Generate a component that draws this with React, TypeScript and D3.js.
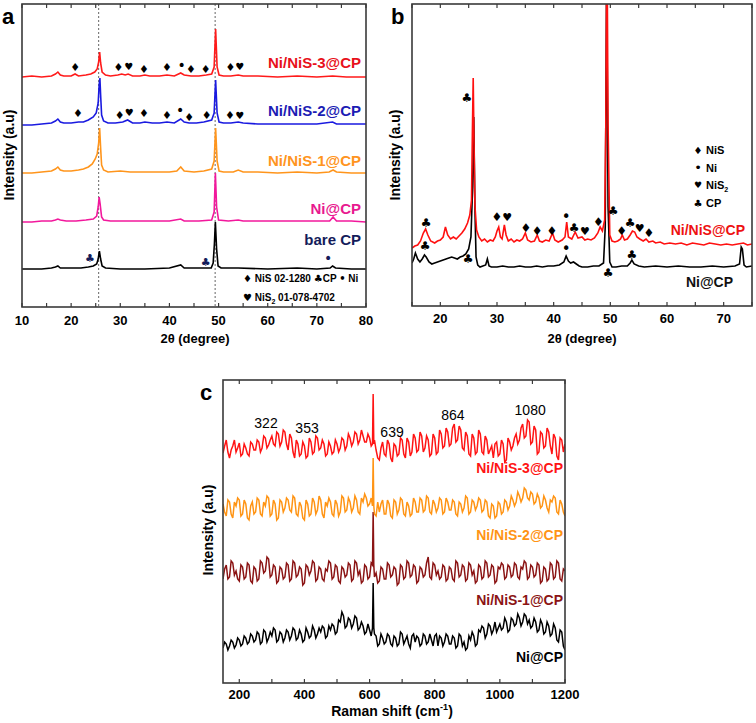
import * as d3 from 'd3'
import { useRef, useEffect } from 'react'

const W = 756, H = 723
const FONT = 'Liberation Sans, Arial, Helvetica, sans-serif'
const SYM_FONT = 'DejaVu Sans, sans-serif'

// ---------- panel a: XRD of the five electrodes (2θ, counts above own baseline)
const xrdNames = ['bare CP', 'Ni@CP', 'Ni/NiS-1@CP', 'Ni/NiS-2@CP', 'Ni/NiS-3@CP']
const xrdColors = ['#000000', '#f2189c', '#ff951c', '#1a1ae0', '#ff1a1a']
const xrdNameColors = ['#141c5a', '#e8198f', '#ff9420', '#1c1cb4', '#e8101a']
const xrdOffsets = [38, 85, 134, 182, 230]
const xrdNameY = [68, 99, 147, 197, 245]

const xrdBare = [[10,0],[12,0],[14,0],[16,1],[16.8,2],[17.3,3],[17.8,1],[20,1],[22,1],[23.5,2],[24.5,3],[25.2,5],[25.5,10],[25.75,18],[26.0,10],[26.3,3],[27,1],[30,0],[35,0],[40,1],[42.3,4],[43,1],[46,1],[48.5,1],[48.9,6],[49.15,25],[49.35,47],[49.6,20],[49.9,3],[50.5,1],[54,1],[60,0],[66,1],[70,0],[72.7,1],[73.2,3],[73.8,1],[77,0],[80,0]]
const xrdNi = [[10,0],[12,0],[14,1],[16,1],[16.8,2],[17.3,3],[17.8,2],[19,1],[21,1],[23,2],[24.5,3],[25.2,6],[25.5,15],[25.7,25],[25.9,18],[26.2,5],[26.6,2],[28,1],[32,1],[36,1],[40,1],[42.3,3],[43,1],[46,1],[48.6,2],[49.1,10],[49.35,49],[49.6,15],[50,2],[52,1],[54,2],[55,1],[60,1],[66,1],[70,1],[72.6,1],[73.3,5],[74,1],[77,1],[80,0]]
const xrdNiS1 = [[10,0],[12,0],[14,1],[16,2],[16.8,4],[17.3,6],[17.8,3],[18.5,2],[20,2],[21.5,3],[22.5,4],[23.5,6],[24.3,9],[24.9,14],[25.3,19],[25.6,30],[25.8,45],[26.0,25],[26.2,8],[26.6,3],[27.5,1],[30,2],[32,1],[35,1],[38,1],[40,1],[41.5,2],[42.3,6],[43,2],[45,1],[47,2],[48.6,4],[49.1,12],[49.4,45],[49.7,12],[50.1,2],[51,1],[53,1],[54,3],[55,1],[58,1],[62,0],[66,1],[70,0],[72.5,1],[73.3,3],[74,1],[77,0],[80,0]]
const xrdNiS2 = [[10,0],[12,0],[14,1],[16,2],[16.8,4],[17.3,6],[17.8,3],[18.5,2],[20,2],[21.5,3],[22.5,3],[23.5,5],[24.5,8],[25.1,12],[25.5,22],[25.7,40],[25.85,47],[26.0,30],[26.2,10],[26.6,4],[27.5,2],[29,2],[30.5,3],[31.5,5],[32.5,2],[34,2],[35,3],[36.5,2],[38,2],[39.5,3],[41,2],[42.3,6],[43,3],[44,2],[45.5,2],[47,3],[48.6,5],[49.1,12],[49.4,45],[49.7,12],[50.1,3],[51,2],[52.5,2],[54,3],[55,2],[58,1],[62,1],[66,1],[70,1],[73.2,3],[74,1],[77,1],[80,1]]
const xrdNiS3 = [[10,0],[12,1],[14,0],[16,1],[16.8,3],[17.3,5],[17.8,2],[18.5,1],[20,1],[20.8,3],[21.5,1],[23,2],[24,3],[24.8,5],[25.3,8],[25.6,15],[25.8,25],[26.0,14],[26.3,5],[27,2],[28,1],[29.5,2],[30.3,3],[31,2],[31.6,3],[32.5,1],[34,1],[35,2],[36,1],[38,1],[39.5,2],[41,1],[42.3,4],[43,2],[44.4,1],[46,1],[47.5,2],[48.6,3],[49.1,10],[49.4,48],[49.7,10],[50.1,2],[51,1],[52.5,1],[54,2],[55,1],[58,1],[62,0],[66,1],[70,0],[73.2,1],[76,0],[80,0]]
const xrdSeries = [xrdBare, xrdNi, xrdNiS1, xrdNiS2, xrdNiS3]

// phase markers in panel a: [2θ, height on the axis, symbol]
const aMarks = [
  [20.8,240,'♦'],[29.6,240,'♦'],[31.7,241,'♥'],[34.8,238,'♦'],[39.5,240,'♦'],[42.5,242,'•'],[44.4,238,'♦'],[47.4,238,'♦'],[52.4,240,'♦'],[54.3,241,'♥'],
  [21.4,194,'♦'],[29.9,192,'♦'],[31.8,195,'♥'],[34.8,194,'♦'],[39.5,192,'♦'],[42.2,197,'•'],[44.0,190,'♦'],[47.6,192,'♦'],[52.3,192,'♦'],[54.3,192,'♥'],
  [23.8,49,'♣'],[47.4,45,'♣'],[72.3,49,'•'],
]
const aMajor = [10, 20, 30, 40, 50, 60, 70, 80]
const aMinor = [15, 25, 35, 45, 55, 65, 75]
const aGuides = [25.6, 49.3]

// ---------- panel b: Ni/NiS@CP vs Ni@CP
const bNames = ['Ni@CP', 'Ni/NiS@CP']
const bColors = ['#000000', '#ff1010']
const bOffsets = [39, 61]
const bNiCP = [[15,4],[15.3,8],[15.6,14],[16,8],[16.4,5],[16.8,8],[17.2,12],[17.5,10],[18,5],[18.5,3],[19,4],[19.5,5],[20,6],[20.5,7],[21,8],[21.5,9],[22,10],[22.5,9],[23,8],[23.5,10],[24,11],[24.5,13],[25,18],[25.4,30],[25.7,80],[25.9,150],[26.1,60],[26.3,10],[26.6,2],[27,0],[27.5,1],[28,2],[28.3,8],[28.6,1],[29,0],[30,0],[31,1],[32,0],[33,0],[34,1],[35,0],[36,0],[37,1],[38,0],[39,1],[40,1],[41,2],[41.8,5],[42.2,11],[42.6,6],[43,4],[43.5,5],[44,3],[44.5,1],[45,0],[46,0],[47,1],[48,1],[48.8,4],[49.1,40],[49.35,300],[49.6,60],[49.9,5],[50.3,0],[51,0],[52,1],[53,1],[53.5,4],[53.8,7],[54.2,3],[55,1],[56,0],[58,1],[60,0],[62,1],[64,0],[66,0],[68,1],[70,0],[72,1],[72.8,3],[73.1,20],[73.3,18],[73.6,2],[74,0],[75,1]]
const bNiNiS = [[15,-3],[15.5,-1],[16,0],[16.5,4],[17,12],[17.4,16],[17.8,10],[18.3,4],[19,2],[19.5,4],[20,5],[20.5,8],[20.9,18],[21.3,10],[21.8,6],[22.3,8],[22.8,6],[23.3,9],[23.8,12],[24.3,16],[24.8,22],[25.2,30],[25.5,45],[25.65,110],[25.8,167],[25.95,100],[26.1,40],[26.4,15],[26.8,8],[27.3,4],[27.8,6],[28.3,3],[28.8,5],[29.3,4],[29.7,8],[30.0,14],[30.3,18],[30.6,8],[30.9,6],[31.3,20],[31.6,10],[32,4],[32.5,6],[33,3],[33.5,5],[34,4],[34.5,6],[35,12],[35.4,5],[36,3],[36.6,4],[37.1,10],[37.5,4],[38,3],[38.6,5],[39.2,4],[39.8,12],[40.2,5],[40.8,3],[41.5,5],[42,8],[42.3,23],[42.6,8],[43.2,6],[43.8,13],[44.3,7],[45,8],[45.5,5],[46,6],[46.6,5],[47.2,7],[47.8,12],[48.2,18],[48.6,14],[49.0,25],[49.2,120],[49.4,320],[49.6,120],[49.9,10],[50.3,4],[50.8,3],[51.3,4],[51.8,6],[52.1,10],[52.5,5],[53,6],[53.5,10],[53.9,14],[54.3,13],[54.7,8],[55.2,6],[55.8,4],[56.3,6],[56.8,3],[57.5,4],[58,2],[58.8,3],[59.5,1],[60.5,2],[61.5,1],[62.5,2],[63.5,0],[64.5,2],[65.5,1],[66.5,0],[67.5,2],[68.5,1],[69.5,0],[70.5,1],[71.5,0],[72.5,1],[73.5,2],[74.2,0],[75,1]]
const bSeries = [bNiCP, bNiNiS]
const bMarks = [
  [24.7,208,'♣'],[17.5,83,'♣'],[30.0,89,'♦'],[31.8,89,'♥'],[35.1,78,'♦'],[37.1,75,'♦'],[39.7,75,'♦'],[42.2,89,'•'],[43.6,78,'♣'],[45.5,75,'♥'],[47.9,84,'♦'],[50.5,95,'♣'],[52.0,75,'♦'],[53.5,83,'♣'],[55.2,78,'♥'],[56.8,73,'♦'],
  [17.3,60,'♣'],[24.9,47,'♣'],[42.2,57,'•'],[49.6,33,'♣'],[53.8,51,'♣'],
]
const bLegendSym = ['♦', '•', '♥', '♣']
const bLegendText = ['NiS', 'Ni', 'NiS2', 'CP']
const bMajor = [20, 30, 40, 50, 60, 70]
const bMinor = [15, 25, 35, 45, 55, 65, 75]

// ---------- panel c: Raman, sampled every 5 cm-1 from 150 to 1200
const ramanShift = d3.range(150, 1201, 5)
const ramanNames = ['Ni@CP', 'Ni/NiS-1@CP', 'Ni/NiS-2@CP', 'Ni/NiS-3@CP']
const ramanColors = ['#000000', '#8b1414', '#ff9414', '#ff1414']
const ramanOffsets = [43, 110, 175, 235]
const ramanSpike = [57, 61, 50, 54]
const ramanNameY = [26, 83, 148, 215]
const ramanNiCP = [
  -8,-2,-4,-10,-6,0,-2,-8,-5,2,0,-6,-4,4,2,-4,-2,6,4,-2,
  0,8,6,-4,-2,10,8,-2,2,8,4,12,10,-2,0,8,6,-2,2,10,
  8,0,4,12,10,0,2,10,6,-2,0,12,8,2,4,14,10,2,6,12,
  8,14,12,2,4,14,10,16,14,6,8,20,18,28,24,12,14,22,20,12,
  16,24,22,10,12,18,14,6,8,16,10,4,12,6,4,-6,-4,6,2,-4,
  -2,6,4,-4,-6,4,2,-6,-4,8,6,-4,0,4,-4,-8,4,6,-2,4,
  2,-6,-4,6,4,-4,-2,6,0,-6,4,6,-6,4,2,-6,-2,6,4,-4,
  -4,4,2,-8,-6,6,4,-6,-2,-10,-8,4,0,8,4,-6,-4,10,8,14,
  12,2,6,16,14,6,10,18,8,12,16,10,12,22,18,8,10,22,20,14,
  16,26,22,14,18,26,24,16,20,12,14,22,18,8,10,20,16,6,8,18,
  14,4,6,16,12,0,-2,10,8,-6,-10]
const ramanNiS1 = [
  -6,4,8,-6,-4,12,10,-2,2,-6,-8,8,6,-6,-4,10,8,-8,-10,6,
  4,-8,-6,12,10,0,2,16,14,-4,-2,8,6,-10,-8,6,4,-6,-4,10,
  8,-8,-6,12,10,-4,-2,6,4,-12,-10,8,6,-2,2,12,10,-8,-6,6,
  4,-6,-8,4,2,12,10,-6,-4,8,6,-8,-10,6,4,-4,-2,10,8,-8,
  -6,12,10,-2,2,-10,-8,8,6,-6,-4,10,8,-4,0,-10,-8,6,4,-6,
  -6,10,8,-4,-2,6,4,-12,-10,8,6,-6,-4,12,10,-4,-2,8,6,-10,
  -8,6,4,-4,-2,10,16,-4,-6,10,8,-2,2,-6,-4,8,6,-8,-6,6,
  4,-6,-8,12,10,-4,-2,8,6,-8,-6,10,8,-2,2,-10,-8,8,6,-6,
  -4,12,10,-4,-2,8,6,-10,-8,6,4,10,8,-6,-4,8,6,-4,-2,10,
  8,-4,-6,6,4,12,10,-6,-4,8,6,-4,-2,10,8,-10,-8,6,4,-8,
  -6,10,8,-6,-4,12,10,-6,-8,4,2]
const ramanNiS2 = [
  4,-4,-8,8,6,-6,-10,6,2,10,8,-8,-6,8,4,-10,-12,2,6,-6,
  -4,10,8,-6,-8,6,2,12,10,-8,-6,8,4,-12,-10,8,6,-4,0,10,
  8,-2,-4,12,10,-6,-8,6,2,-10,-12,8,4,-8,-6,10,6,-6,-2,12,
  8,-6,-10,6,2,10,6,-6,-8,8,4,-8,-4,12,10,-4,-2,10,6,-4,
  0,12,8,-4,-6,10,6,14,10,2,4,10,2,-6,-8,6,-4,4,8,-6,
  -6,8,4,-8,-10,8,6,-6,-2,10,8,-6,-8,6,2,-8,-6,10,6,-4,
  -4,10,8,-4,-2,12,10,-4,-6,8,4,-4,0,10,8,-6,-4,10,6,-2,
  -2,8,6,-6,-8,6,4,-4,0,12,10,-6,-4,8,6,-2,2,10,8,-4,
  -2,8,6,-8,-10,4,2,-10,-8,6,4,-6,-4,8,6,-2,2,12,8,2,
  6,16,12,6,10,20,18,10,8,16,14,4,6,14,10,0,2,12,8,0,
  -4,8,6,12,10,-4,-6,8,4,-4,-8]
const ramanNiS3 = [
  -5,2,8,-4,-10,-2,2,8,-4,0,5,-8,-6,4,0,-6,-8,6,4,-2,
  -2,8,6,-4,0,12,10,0,3,8,12,4,2,16,14,2,6,18,16,4,
  -2,14,10,-4,-10,8,4,-8,-6,6,2,-10,-8,10,6,-6,-4,12,10,-2,
  0,8,4,-8,-6,6,2,-6,-4,8,4,-4,0,10,8,-2,2,14,10,2,
  6,16,14,4,8,18,12,6,6,14,10,2,4,8,-2,-10,-12,0,6,-6,
  -8,8,4,-10,-14,4,2,-8,-6,10,8,-6,-10,10,6,-8,-4,14,10,-4,
  -2,16,12,-4,0,12,8,-8,-6,14,10,-6,-4,18,14,0,2,20,16,2,
  4,20,24,6,8,22,18,0,-2,16,12,-6,-8,14,10,-6,-4,18,14,-4,
  -6,12,8,-6,-2,2,-10,4,6,-8,-6,8,4,-14,-12,10,6,-2,2,10,
  14,4,8,20,24,10,12,28,26,4,6,22,18,-6,-4,16,14,0,2,20,
  16,2,-6,14,10,-8,-12,10,8,-4,4]
const ramanSeries = [ramanNiCP, ramanNiS1, ramanNiS2, ramanNiS3]
const ramanPeaks = ['322', '353', '639', '864', '1080']
const ramanPeakX = [282, 408, 669, 856, 1093]
const ramanPeakY = [260, 255, 251, 268, 273]
const cMajor = [200, 400, 600, 800, 1000, 1200]
const cMinor = [300, 500, 700, 900, 1100]

function drawFrame(svg, x, top, bottom, major, minor, tickY) {
  const [xa, xb] = x.range()
  const ax = svg.append('g')
  ax.append('rect').attr('x', xa).attr('y', top).attr('width', xb - xa).attr('height', bottom - top)
    .attr('fill', 'none').attr('stroke', '#3a3a3a').attr('stroke-width', 1.6)
  major.concat(minor).forEach(t => {
    ax.append('line').attr('x1', x(t)).attr('x2', x(t)).attr('y1', bottom).attr('y2', bottom - 4)
      .attr('stroke', '#3a3a3a').attr('stroke-width', 1.2)
    ax.append('line').attr('x1', x(t)).attr('x2', x(t)).attr('y1', top).attr('y2', top + 4)
      .attr('stroke', '#3a3a3a').attr('stroke-width', 1.2)
  })
  major.forEach(t => {
    ax.append('text').attr('x', x(t)).attr('y', tickY).attr('text-anchor', 'middle')
      .attr('font-size', 13).attr('font-weight', 'bold').text(t)
  })
}

function yTitle(svg, cx, cy) {
  svg.append('text').attr('transform', `translate(${cx},${cy}) rotate(-90)`)
    .attr('text-anchor', 'middle').attr('font-size', 14).attr('font-weight', 'bold')
    .text('Intensity (a.u)')
}

function clip(svg, id, x, top, bottom) {
  const [xa, xb] = x.range()
  svg.append('clipPath').attr('id', id).append('rect')
    .attr('x', xa).attr('y', top).attr('width', xb - xa).attr('height', bottom - top)
}

function symbol(svg, x, y, s, size, fill = '#000') {
  svg.append('text').attr('x', x).attr('y', y).attr('text-anchor', 'middle')
    .attr('dominant-baseline', 'central').attr('font-family', SYM_FONT)
    .attr('font-size', s === '•' ? size + 3 : s === '♥' ? size - 1 : size).attr('fill', fill).text(s)
}

export default function App() {
  const svgRef = useRef(null)

  useEffect(() => {
    const svg = d3.select(svgRef.current)
    svg.selectAll('*').remove()
    svg.attr('font-family', FONT)

    // ================= a
    const xA = d3.scaleLinear().domain([10, 80]).range([22, 366])
    const yA = d3.scaleLinear().domain([0, 303]).range([307, 4])
    clip(svg, 'clipA', xA, 4, 307)
    aGuides.forEach(t => {
      svg.append('line').attr('x1', xA(t)).attr('x2', xA(t)).attr('y1', 4).attr('y2', 307)
        .attr('stroke', '#555').attr('stroke-width', 0.9).attr('stroke-dasharray', '2,2')
    })
    const gA = svg.append('g').attr('clip-path', 'url(#clipA)')
    xrdSeries.forEach((s, i) => {
      const line = d3.line().x(d => xA(d[0])).y(d => yA(d[1] + xrdOffsets[i]))
      gA.append('path').attr('d', line(s)).attr('fill', 'none')
        .attr('stroke', xrdColors[i]).attr('stroke-width', 1.6)
      svg.append('text').attr('x', 361).attr('y', yA(xrdNameY[i])).attr('text-anchor', 'end')
        .attr('dominant-baseline', 'central').attr('font-size', 15).attr('font-weight', 'bold')
        .attr('fill', xrdNameColors[i]).text(xrdNames[i])
    })
    aMarks.forEach(m => symbol(svg, xA(m[0]), yA(m[1]), m[2], 11, m[1] < 60 ? '#141c5a' : '#000'))
    // phase legend
    const la = svg.append('g').attr('font-size', 10).attr('font-weight', 'bold')
    const l1 = la.append('text').attr('x', 243).attr('y', 282)
    l1.append('tspan').attr('font-family', SYM_FONT).text('♦')
    l1.append('tspan').text(' NiS 02-1280 ')
    l1.append('tspan').attr('font-family', SYM_FONT).text('♣')
    l1.append('tspan').text('CP ')
    l1.append('tspan').attr('font-family', SYM_FONT).text('•')
    l1.append('tspan').text(' Ni')
    const l2 = la.append('text').attr('x', 243).attr('y', 301)
    l2.append('tspan').attr('font-family', SYM_FONT).text('♥')
    l2.append('tspan').text(' NiS')
    l2.append('tspan').attr('font-size', 7).attr('dy', 3).text('2')
    l2.append('tspan').attr('dy', -3).text(' 01-078-4702')
    drawFrame(svg, xA, 4, 307, aMajor, aMinor, 325)
    yTitle(svg, 14, 155)
    svg.append('text').attr('x', 195).attr('y', 343).attr('text-anchor', 'middle')
      .attr('font-size', 13).attr('font-weight', 'bold').text('2θ (degree)')
    svg.append('text').attr('x', 2).attr('y', 24).attr('font-size', 22).attr('font-weight', 'bold').text('a')

    // ================= b
    const xB = d3.scaleLinear().domain([15, 75]).range([412, 752])
    const yB = d3.scaleLinear().domain([0, 302]).range([306, 4])
    clip(svg, 'clipB', xB, 4, 306)
    const gB = svg.append('g').attr('clip-path', 'url(#clipB)')
    bSeries.forEach((s, i) => {
      const line = d3.line().x(d => xB(d[0])).y(d => yB(d[1] + bOffsets[i]))
      gB.append('path').attr('d', line(s)).attr('fill', 'none')
        .attr('stroke', bColors[i]).attr('stroke-width', 1.6)
    })
    svg.append('text').attr('x', 745).attr('y', 230).attr('text-anchor', 'end')
      .attr('dominant-baseline', 'central').attr('font-size', 14).attr('font-weight', 'bold')
      .attr('fill', '#ee1111').text(bNames[1])
    svg.append('text').attr('x', 733).attr('y', 282).attr('text-anchor', 'end')
      .attr('dominant-baseline', 'central').attr('font-size', 14).attr('font-weight', 'bold')
      .attr('fill', '#111').text(bNames[0])
    bMarks.forEach(m => symbol(svg, xB(m[0]), yB(m[1]), m[2], 12))
    bLegendSym.forEach((s, i) => {
      const yy = 150 + i * 17.7
      symbol(svg, 698, yy, s, 10)
      const t = svg.append('text').attr('x', 706).attr('y', yy + 4).attr('font-size', 11)
        .attr('font-weight', 'bold')
      if (bLegendText[i] === 'NiS2') {
        t.append('tspan').text('NiS')
        t.append('tspan').attr('font-size', 7).attr('dy', 3).text('2')
      } else t.text(bLegendText[i])
    })
    drawFrame(svg, xB, 4, 306, bMajor, bMinor, 323)
    yTitle(svg, 400, 155)
    svg.append('text').attr('x', 582).attr('y', 343).attr('text-anchor', 'middle')
      .attr('font-size', 13).attr('font-weight', 'bold').text('2θ (degree)')
    svg.append('text').attr('x', 391).attr('y', 24).attr('font-size', 22).attr('font-weight', 'bold').text('b')

    // ================= c
    const xC = d3.scaleLinear().domain([150, 1200]).range([223, 565])
    const yC = d3.scaleLinear().domain([0, 303]).range([683, 380])
    clip(svg, 'clipC', xC, 380, 683)
    const gC = svg.append('g').attr('clip-path', 'url(#clipC)')
    ramanSeries.forEach((vals, i) => {
      const pts = []
      ramanShift.forEach((s, k) => {
        if (s === 610) {
          pts.push([609, vals[k]], [611, ramanSpike[i]], [613, vals[k]])
        } else pts.push([s, vals[k]])
      })
      const line = d3.line().x(d => xC(d[0])).y(d => yC(d[1] + ramanOffsets[i]))
      gC.append('path').attr('d', line(pts)).attr('fill', 'none')
        .attr('stroke', ramanColors[i]).attr('stroke-width', 1.5)
      svg.append('text').attr('x', 563).attr('y', yC(ramanNameY[i])).attr('text-anchor', 'end')
        .attr('dominant-baseline', 'central').attr('font-size', 14).attr('font-weight', 'bold')
        .attr('fill', ramanColors[i]).text(ramanNames[i])
    })
    ramanPeaks.forEach((p, i) => {
      svg.append('text').attr('x', xC(ramanPeakX[i])).attr('y', yC(ramanPeakY[i]))
        .attr('text-anchor', 'middle').attr('dominant-baseline', 'central')
        .attr('font-size', 14).text(p)
    })
    drawFrame(svg, xC, 380, 683, cMajor, cMinor, 699)
    yTitle(svg, 213, 530)
    const xt = svg.append('text').attr('x', 392).attr('y', 716).attr('text-anchor', 'middle')
      .attr('font-size', 14).attr('font-weight', 'bold')
    xt.append('tspan').text('Raman shift (cm')
    xt.append('tspan').attr('font-size', 9).attr('dy', -6).text('-1')
    xt.append('tspan').attr('dy', 6).text(')')
    svg.append('text').attr('x', 200).attr('y', 400).attr('font-size', 22).attr('font-weight', 'bold').text('c')
  }, [])

  return (
    <div style={{ position: 'absolute', left: 0, top: 0, background: '#fff' }}>
      <svg ref={svgRef} width={W} height={H} viewBox={`0 0 ${W} ${H}`} style={{ display: 'block' }} />
    </div>
  )
}
